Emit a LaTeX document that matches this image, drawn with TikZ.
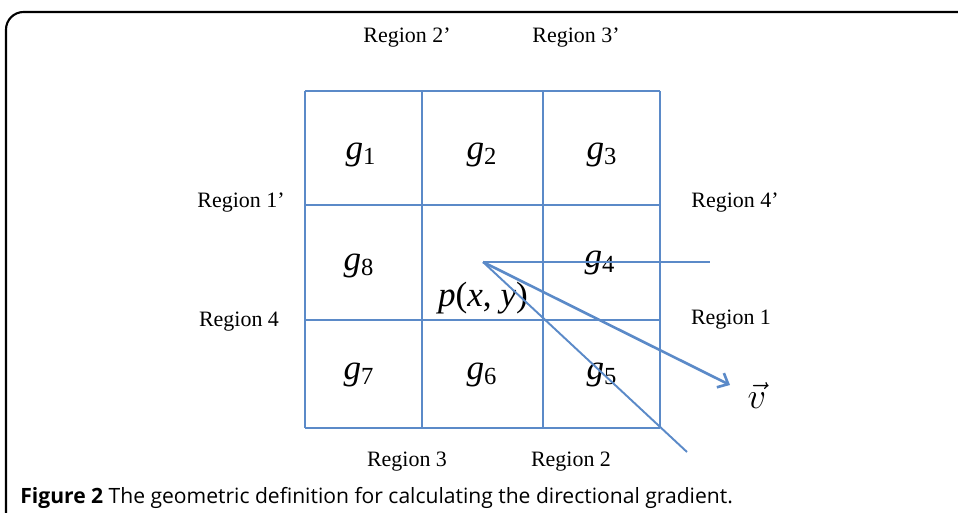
\documentclass[tikz,border=0pt]{standalone}
\usepackage{fontspec}
\setmainfont{Liberation Serif}
\newfontfamily\capfont{Open Sans}
\usetikzlibrary{arrows.meta,positioning}
\definecolor{gridblue}{RGB}{91,138,200}

\begin{document}
\begin{tikzpicture}[x=0.02cm,y=-0.02cm,
        cell/.style={gridblue, line width=1.3pt},
        gval/.style={font=\fontsize{20}{20}\selectfont, inner sep=0pt},
        reg/.style={font=\fontsize{12.5}{12.5}\selectfont, inner sep=0pt},
        ray/.style={gridblue, line width=1.1pt},
        arr/.style={ray, line width=1.5pt, -{Straight Barb[length=5pt,width=9pt]}}]
        \useasboundingbox (0,0) rectangle (958,513);
        \clip (0,0) rectangle (958,513);
        \draw[line width=1.2pt, rounded corners=10pt] (6,560) -- (6,12) -- (990,12);
        % 3x3 neighbourhood
        \foreach \x in {305,422,543,660} \draw[cell] (\x,91) -- (\x,428);
        \foreach \y in {91,205,320,428} \draw[cell] (305,\y) -- (660,\y);
        \node[gval] (g1) at (361,155) {\textit{g}\textsubscript{1}};
        \node[gval] (g2) at (482,155) {\textit{g}\textsubscript{2}};
        \node[gval] (g3) at (602,155) {\textit{g}\textsubscript{3}};
        \node[gval] (g8) at (359,266) {\textit{g}\textsubscript{8}};
        \node[gval] (g4) at (600,263) {\textit{g}\textsubscript{4}};
        \node[gval] (g7) at (359,375) {\textit{g}\textsubscript{7}};
        \node[gval] (g6) at (482,375) {\textit{g}\textsubscript{6}};
        \node[gval] (g5) at (602,375) {\textit{g}\textsubscript{5}};
        \node[gval] (pxy) at (483,298) {\textit{p}(\textit{x}, \textit{y})};
        % rays from p
        \coordinate (p) at (483,262);
        \coordinate (hend) at (710,262);
        \coordinate (dend) at (687,452);
        \coordinate (vend) at (730,385);
        \node[font=\fontsize{22}{22}\selectfont, inner sep=0pt] (v) at (757,396) {$\vec{v}$};
        \draw[ray] (p) -- (hend);
        \draw[ray] (p) -- (dend);
        \draw[arr] (p) -- (vend);
        % region labels
        \node[reg] (r2p) at (407,38)  {Region 2’};
        \node[reg] (r3p) at (576,38)  {Region 3’};
        \node[reg] (r1p) at (241,203) {Region 1’};
        \node[reg] (r4p) at (735,203) {Region 4’};
        \node[reg] (r4)  at (239,322) {Region 4};
        \node[reg] (r1)  at (731,320) {Region 1};
        \node[reg] (r3)  at (407,462) {Region 3};
        \node[reg] (r2)  at (571,462) {Region 2};
        \node[anchor=west, inner sep=0pt, font=\capfont\fontsize{12}{12}\selectfont] (cap) at (20,498)
            {\textbf{Figure 2} The geometric definition for calculating the directional gradient.};
\end{tikzpicture}
\end{document}
